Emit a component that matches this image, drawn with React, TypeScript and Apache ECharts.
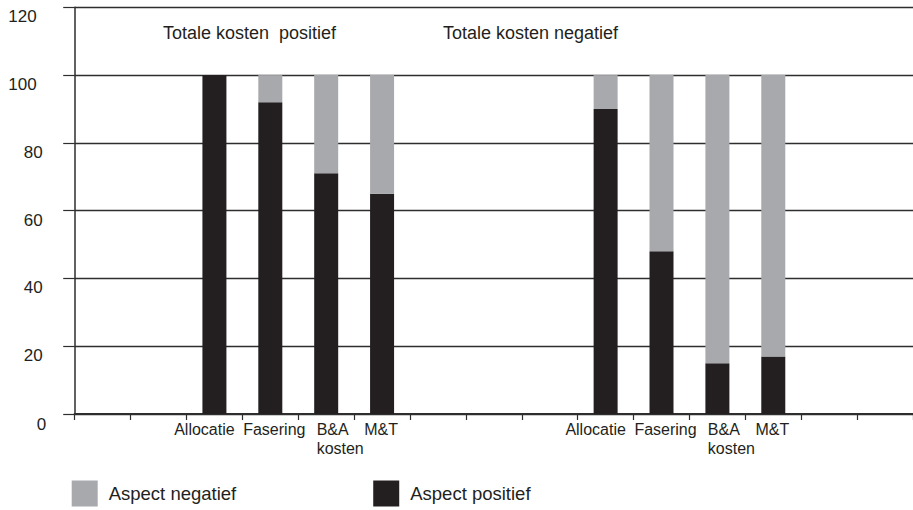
import React, { useEffect, useRef } from "react";
import * as echarts from "echarts";

const categories = ["", "", "Allocatie", "Fasering", "B&A\nkosten", "M&T", "", "", "", "Allocatie", "Fasering", "B&A\nkosten", "M&T", "", ""];
const aspectPositief = [null, null, 100, 92, 71, 65, null, null, null, 90, 48, 15, 17, null, null];
const aspectNegatief = [null, null, 0, 8, 29, 35, null, null, null, 10, 52, 85, 83, null, null];
const yTicks = { min: 0, max: 120, interval: 20 };
const groupTitles = ["Totale kosten  positief", "Totale kosten negatief"];
const legendNames = ["Aspect negatief", "Aspect positief"];

const FONT = "'Liberation Sans', Arial, Helvetica, sans-serif";
const INK = "#231f20";
const GREY = "#a7a9ac";
const LINE = "#2e2e2e";

export default function App() {
  const ref = useRef<HTMLDivElement>(null);
  useEffect(() => {
    if (!ref.current) return;
    const chart = echarts.init(ref.current, undefined, { renderer: "svg" });
    chart.setOption({
      animation: false,
      textStyle: { fontFamily: FONT, color: INK },
      title: [
        { text: groupTitles[0], left: 163, top: 24, padding: 0, textStyle: { fontFamily: FONT, fontSize: 18, fontWeight: "normal", color: INK } },
        { text: groupTitles[1], left: 443, top: 24, padding: 0, textStyle: { fontFamily: FONT, fontSize: 18, fontWeight: "normal", color: INK } },
      ],
      legend: {
        data: legendNames,
        left: 71.7,
        top: 480.5,
        padding: 0,
        icon: "rect",
        itemWidth: 26,
        itemHeight: 26,
        itemGap: 137,
        textStyle: { fontFamily: FONT, fontSize: 18.5, color: INK, padding: [0, 0, 0, 6] },
      },
      grid: { left: 74.7, right: -6.2, top: 7.3, bottom: 96, containLabel: false },
      xAxis: {
        type: "category",
        data: categories,
        boundaryGap: true,
        axisLine: { show: true, lineStyle: { color: LINE, width: 2 } },
        axisTick: { show: true, interval: 0, length: 6, lineStyle: { color: LINE, width: 1.2 } },
        axisLabel: {
          interval: 0,
          margin: 6,
          fontFamily: FONT,
          fontSize: 16,
          color: INK,
          lineHeight: 19,
          formatter: (v: string) => {
            if (!v) return "";
            if (v === "Allocatie") return "{al|Allocatie}";
            if (v === "Fasering") return "{fa|Fasering}";
            if (v === "M&T") return "{mt|M&T}";
            return v.split("\n").map((s) => `{ba|${s}}`).join("\n");
          },
          rich: {
            al: { fontFamily: FONT, fontSize: 16, color: INK, lineHeight: 19, padding: [0, 20, 0, 0] },
            fa: { fontFamily: FONT, fontSize: 16, color: INK, lineHeight: 19, padding: [0, 0, 0, 8] },
            mt: { fontFamily: FONT, fontSize: 16, color: INK, lineHeight: 19, padding: [0, 2, 0, 0] },
            ba: { fontFamily: FONT, fontSize: 16, color: INK, lineHeight: 19, align: "left", padding: [0, 0, 0, 28] },
          },
        },
        splitLine: { show: false },
      },
      yAxis: {
        type: "value",
        min: yTicks.min,
        max: yTicks.max,
        interval: yTicks.interval,
        axisLine: { show: true, lineStyle: { color: LINE, width: 1.5 } },
        axisTick: { show: true, length: 11.5, lineStyle: { color: LINE, width: 1.2 } },
        splitLine: { show: true, lineStyle: { color: LINE, width: 1.3 } },
        axisLabel: {
          margin: 28.5,
          verticalAlign: "top",
          fontFamily: FONT,
          fontSize: 17,
          color: INK,
          formatter: (v: number) => (v === 0 ? `{z|${v}}` : v >= 100 ? `{h|${v}}` : `{t|${v}}`),
          rich: {
            z: { fontFamily: FONT, fontSize: 17, color: INK, padding: [2, 0, 0, 0] },
            t: { fontFamily: FONT, fontSize: 17, color: INK, padding: [1, 3.5, 0, 0] },
            h: { fontFamily: FONT, fontSize: 17, color: INK, padding: [1, 9.5, 0, 0] },
          },
        },
      },
      series: [
        {
          name: legendNames[1],
          type: "bar",
          stack: "total",
          barWidth: 24,
          data: aspectPositief,
          itemStyle: { color: INK },
        },
        {
          name: legendNames[0],
          type: "bar",
          stack: "total",
          barWidth: 24,
          data: aspectNegatief,
          itemStyle: { color: GREY },
        },
      ],
    });
    return () => chart.dispose();
  }, []);
  return (
    <div
      ref={ref}
      style={{ position: "absolute", left: 0, top: 0, width: 913, height: 510, background: "#fff" }}
    />
  );
}
